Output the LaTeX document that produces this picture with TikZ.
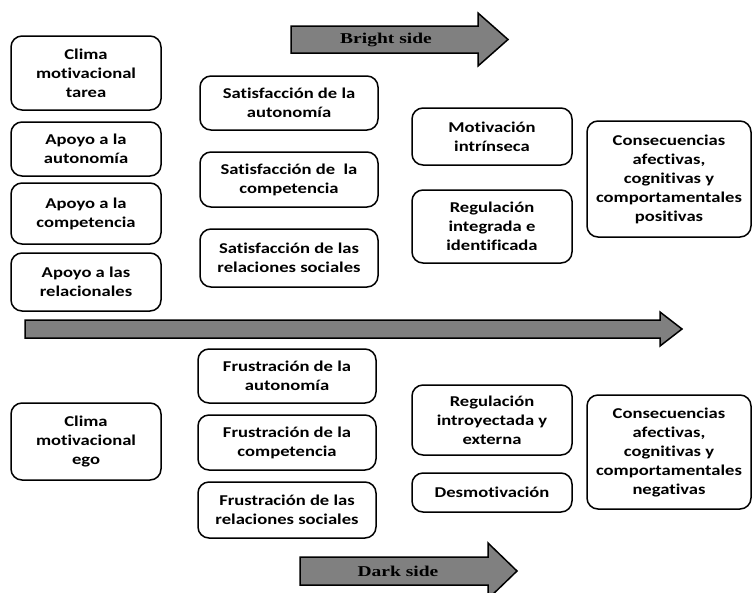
\documentclass[tikz,border=0pt]{standalone}
\usepackage{fontspec}
\setmainfont{Carlito}[FakeStretch=1.24, Ligatures=NoCommon]
\newfontfamily\serifbold{Liberation Serif}[FakeStretch=1.3]
\definecolor{grisflecha}{HTML}{808080}
\tikzset{
  caja/.style={draw, line width=1.5pt, rounded corners=11pt, align=center, inner sep=2pt,
    font=\fontsize{15}{19}\selectfont\bfseries},
  colA/.style={caja, minimum width=150pt},
  colB/.style={caja, minimum width=178pt},
  colC/.style={caja, minimum width=160pt},
  colD/.style={caja, minimum width=164pt},
  flecha/.style={draw, line width=1.5pt, fill=grisflecha, line join=miter},
  rotulo/.style={font=\serifbold\fontsize{15}{18}\selectfont\bfseries}
}
\begin{document}
\begin{tikzpicture}[x=1pt, y=-1pt]
  \useasboundingbox (0,0) rectangle (752,592);

  % flechas grandes
  \draw[flecha] (291,26) -- (478,26) -- (478,13) -- (508,39.5) -- (478,66) -- (478,53) -- (291,53) -- cycle;
  \draw[flecha] (25,320) -- (660,320) -- (660,312) -- (682,329) -- (660,346) -- (660,338) -- (25,338) -- cycle;
  \draw[flecha] (300,557) -- (488,557) -- (488,543) -- (517,571) -- (488,599) -- (488,585) -- (300,585) -- cycle;
  \node[rotulo] (bright) at (386,39.5) {Bright side};
  \node[rotulo] (dark) at (398,571) {Dark side};

  % lado luminoso
  \node[colA, minimum height=74pt] (climaT) at (86,73) {Clima\\motivacional\\tarea};
  \node[colA, minimum height=54pt] (apAut) at (86,149) {Apoyo a la\\autonomía};
  \node[colA, minimum height=61pt] (apComp) at (86,213.5) {Apoyo a la\\competencia};
  \node[colA, minimum height=58pt] (apRel) at (86,282) {Apoyo a las\\relacionales};

  \node[colB, minimum height=54pt] (satAut) at (289,103) {Satisfacción de la\\autonomía};
  \node[colB, minimum height=55pt] (satComp) at (289,179.5) {Satisfacción de~ la\\competencia};
  \node[colB, minimum height=58pt] (satRel) at (289,258) {Satisfacción de las\\relaciones sociales};

  \node[colC, minimum height=57pt] (motInt) at (492,136.5) {Motivación\\intrínseca};
  \node[colC, minimum height=73pt] (regInt) at (492,226.5) {Regulación\\integrada e\\identificada};

  \node[colD, minimum height=116pt] (consPos) at (669,179) {Consecuencias\\afectivas,\\cognitivas y\\comportamentales\\positivas};

  % lado oscuro
  \node[colA, minimum height=77pt] (climaE) at (86,441.5) {Clima\\motivacional\\ego};

  \node[colB, minimum height=54pt] (frAut) at (287,376) {Frustración de la\\autonomía};
  \node[colB, minimum height=55pt] (frComp) at (287,442.5) {Frustración de la\\competencia};
  \node[colB, minimum height=56pt] (frRel) at (287,510) {Frustración de las\\relaciones sociales};

  \node[colC, minimum height=70pt] (regIntro) at (492,420) {Regulación\\introyectada y\\externa};
  \node[colC, minimum height=39pt] (desmot) at (492,492.5) {Desmotivación};

  \node[colD, minimum height=114pt] (consNeg) at (669,452) {Consecuencias\\afectivas,\\cognitivas y\\comportamentales\\negativas};
\end{tikzpicture}
\end{document}
